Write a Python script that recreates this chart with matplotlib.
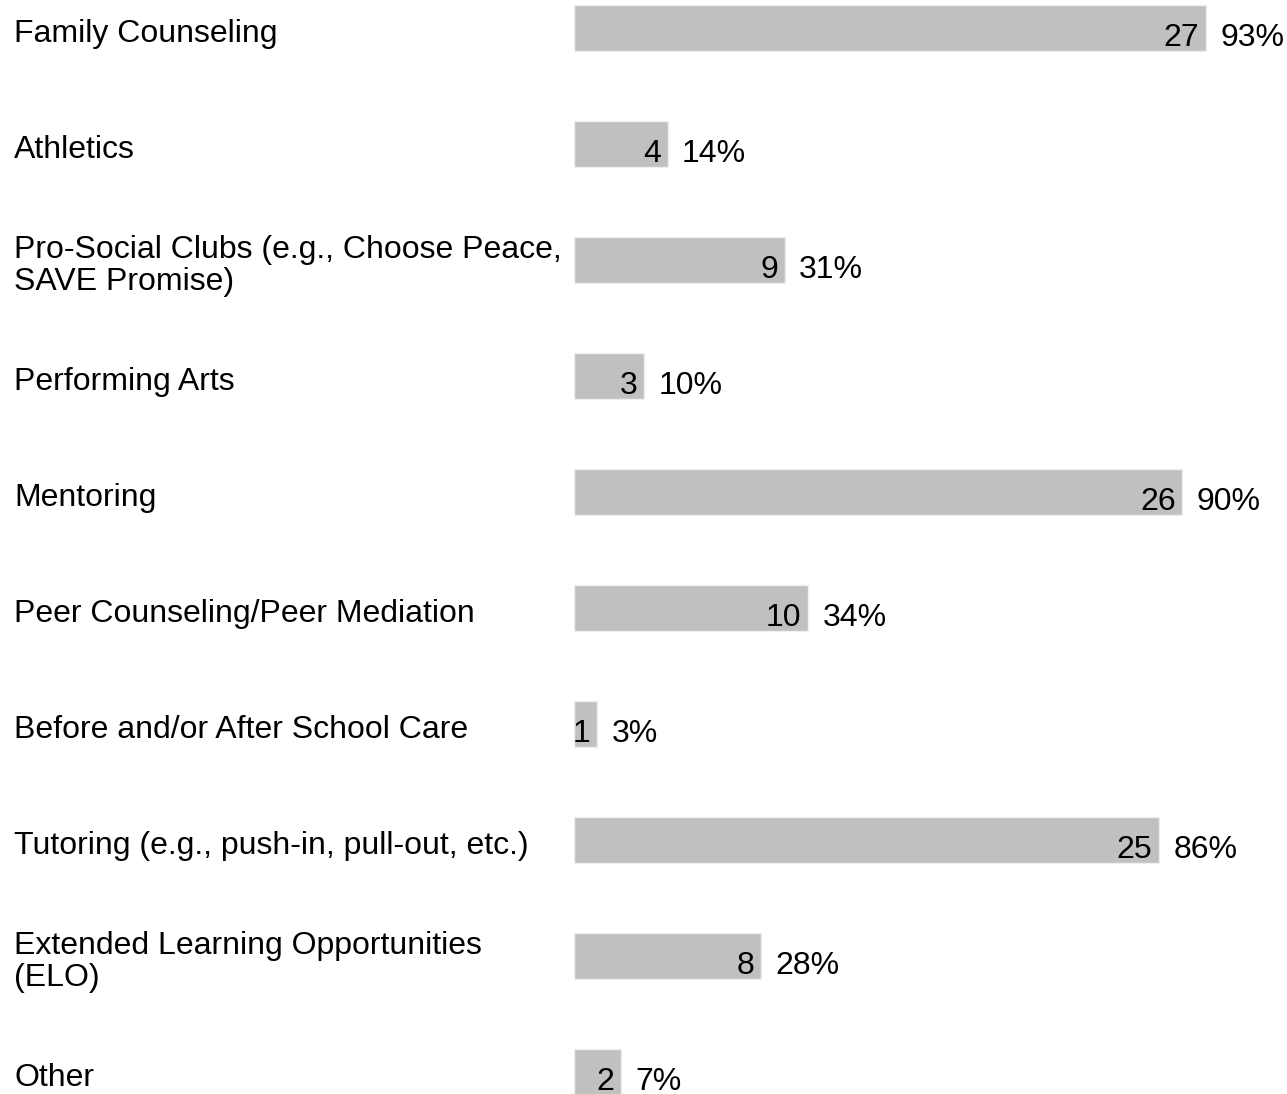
import matplotlib
matplotlib.use("Agg")
import matplotlib.pyplot as plt
from matplotlib.transforms import blended_transform_factory

categories = [
    "Family Counseling",
    "Athletics",
    "Pro-Social Clubs (e.g., Choose Peace,\nSAVE Promise)",
    "Performing Arts",
    "Mentoring",
    "Peer Counseling/Peer Mediation",
    "Before and/or After School Care",
    "Tutoring (e.g., push-in, pull-out, etc.)",
    "Extended Learning Opportunities\n(ELO)",
    "Other",
]
counts = [27, 4, 9, 3, 26, 10, 1, 25, 8, 2]
percents = [93, 14, 31, 10, 90, 34, 3, 86, 28, 7]

plt.rcParams["font.family"] = ["Liberation Sans", "DejaVu Sans"]

W, H = 1287, 1094
fig = plt.figure(figsize=(W / 100, H / 100), dpi=100)

# axes: bars start at x=574px, 23.4 px per count
left = 574 / W
width = 30 * 23.4 / W
ax = fig.add_axes([left, 0, width, 1])

y = list(range(len(categories)))
ax.barh(y, counts, height=0.4, color="#c0c0c0", edgecolor="#efefef", linewidth=1.0)

ax.set_xlim(0, 30)
step = 116
ax.set_ylim((H - 28) / step, -28 / step)
ax.axis("off")

fs = 23
# small vertical offset for value labels (in data units)
dy = 10 / step
for i, (c, p) in enumerate(zip(counts, percents)):
    ax.text(c - 0.28, i + dy, str(c), ha="right", va="center", fontsize=fs, color="#000000")
    ax.text(c + 0.62, i + dy, f"{p}%", ha="left", va="center", fontsize=fs, color="#000000")

trans = blended_transform_factory(fig.transFigure, ax.transData)
for i, cat in enumerate(categories):
    ax.text(14 / W, i + 6 / step, cat, transform=trans, ha="left", va="center",
            fontsize=fs, linespacing=1.05, clip_on=False)

fig.savefig("out.png", dpi=100)
